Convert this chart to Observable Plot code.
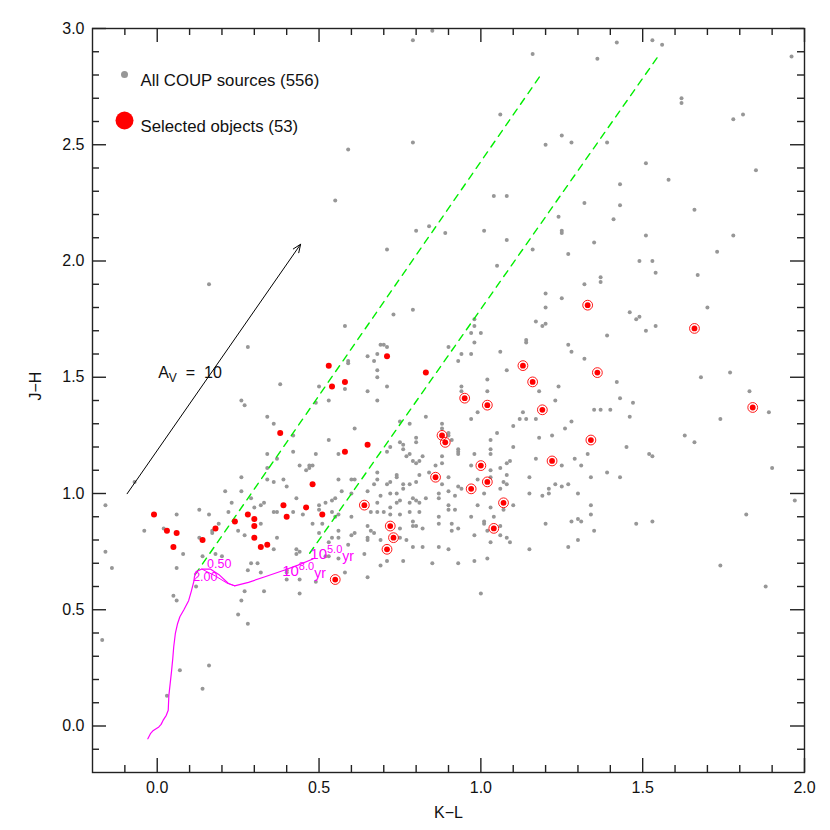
<!DOCTYPE html>
<html><head><meta charset="utf-8">
<script src="https://cdn.jsdelivr.net/npm/d3@7"></script>
<script src="https://cdn.jsdelivr.net/npm/@observablehq/plot@0.6"></script>
<style>body{margin:0;background:#fff;} #chart svg{display:block}</style>
</head><body><div id="chart"></div>
<script>
// ---- data: [K-L, J-H] ----
const allSources = [
[0.79,2.95],[0.85,2.99],[0.59,2.48],[0.79,2.51],[0.55,2.26],[0.80,2.13],[0.84,2.15],[0.71,2.05],
[1.06,2.63],[1.04,2.28],[1.08,2.28],[0.89,2.12],[1.01,2.13],[1.08,2.09],[1.05,1.98],[0.79,1.79],
[1.16,2.89],[1.42,2.94],[1.53,2.95],[1.56,2.93],[1.36,2.87],[1.96,2.88],[1.62,2.70],[1.62,2.68],[1.78,2.61],[1.81,2.63],[1.25,2.54],[1.28,2.51],[1.20,2.50],[1.39,2.51],[1.85,2.39],[1.51,2.42],[1.58,2.35],[1.43,2.33],[1.43,2.24],[1.32,2.25],[1.66,2.22],[1.41,2.18],[1.24,2.19],[1.25,2.13],[1.25,2.12],[1.51,2.11],[1.78,2.11],[1.16,2.05],[1.27,2.03],[1.35,2.08],[1.73,2.04],[1.49,2.00],[1.53,2.00],[1.54,1.95],[1.67,1.94],[1.37,1.93],[1.37,1.91],[1.32,1.90],[1.20,1.86],[1.25,1.84],[1.20,1.80],[1.70,1.80],[1.46,1.78],[1.48,1.75],[1.49,1.76],[1.17,1.74],
[1.51,1.70],[1.54,1.72],[1.39,1.68],[1.27,1.64],[1.28,1.61],[1.32,1.58],[1.77,1.52],[1.68,1.50],[1.42,1.48],[1.83,1.44],[1.43,1.41],[1.47,1.39],[1.35,1.36],[1.37,1.36],[1.40,1.36],[1.89,1.35],[1.46,1.33],[1.74,1.32],[1.28,1.31],[1.26,1.28],[1.63,1.25],[1.66,1.22],[1.45,1.20],[1.33,1.17],[1.52,1.17],[1.53,1.16],[1.29,1.15],[1.25,1.12],[1.31,1.12],[1.90,1.11],[1.39,1.09],[1.43,1.07],[1.34,1.07],[1.25,1.03],[1.27,1.04],[1.97,0.97],[1.34,0.95],[1.34,0.91],[1.82,0.91],[1.28,0.88],[1.30,0.89],[1.31,0.88],[1.48,0.87],[1.53,0.88],[1.35,0.84],[1.30,0.80],[1.27,0.77],[1.74,0.69],[1.88,0.60],
[0.73,1.77],[0.98,1.75],[1.20,1.73],[1.19,1.72],[0.58,1.72],[0.98,1.72],[0.97,1.69],[1.00,1.69],[0.98,1.65],[1.14,1.66],[1.14,1.65],[0.69,1.64],[0.70,1.64],[0.71,1.63],[0.90,1.63],[1.06,1.61],[0.94,1.60],[0.97,1.60],[0.65,1.59],[0.68,1.60],[0.67,1.57],[0.59,1.57],[0.59,1.56],[0.93,1.57],[1.08,1.53],[0.68,1.53],[0.68,1.50],[0.58,1.45],[0.65,1.44],[0.71,1.46],[0.94,1.46],[0.94,1.44],[1.02,1.44],[1.02,1.49],[1.18,1.44],[1.24,1.46],[0.49,1.39],[0.50,1.46],[0.53,1.40],[0.68,1.40],[1.23,1.40],[0.97,1.32],[0.83,1.33],[0.99,1.35],[1.13,1.35],[1.12,1.32],[1.14,1.32],[1.17,1.32],[0.75,1.31],[0.78,1.30],[1.10,1.29],[1.05,1.26],[0.61,1.28],[0.88,1.30],[0.88,1.28],[0.90,1.26],[0.90,1.25],[0.91,1.23],[0.80,1.24],[0.80,1.22],[1.18,1.24],[1.22,1.25],[1.03,1.23],[1.03,1.19],[1.10,1.20],[0.53,1.23],[0.75,1.22],[0.76,1.21],[0.76,1.19],[0.71,1.18],[0.93,1.19],[0.93,1.18],[0.93,1.17],[0.88,1.16],[0.98,1.17],[1.03,1.17],[0.49,1.17],[0.56,1.17],[0.78,1.17],[0.77,1.16],[0.82,1.16],[0.79,1.14],[0.80,1.13],[0.81,1.14],[0.88,1.13],[1.09,1.14],[1.08,1.13],[1.17,1.15],[1.03,1.10],[1.06,1.11],[0.97,1.12],[0.86,1.12],[0.84,1.09],[0.68,1.09],[0.47,1.12],[0.48,1.12],[0.46,1.10],[1.15,1.07],[1.08,1.08],[1.03,1.07],[0.90,1.07],[0.74,1.08],[0.74,1.07],[0.68,1.06],[0.60,1.06],[0.61,1.06],[0.80,1.05],[0.88,1.04],[0.67,1.04],[0.71,1.04],[0.72,1.05],[0.76,1.04],[0.78,1.04],[1.07,1.05],[1.08,1.04],[1.23,1.04],[0.60,1.00],[0.65,1.01],[0.72,1.00],[0.74,1.00],[0.93,1.03],[0.87,1.00],[0.90,1.01],[0.92,0.99],[1.01,1.00],[1.06,1.02],[1.15,1.00],[1.19,0.99],[1.21,1.02],[1.21,1.00],[1.30,1.00],[0.57,1.01],[0.55,0.98],[0.54,0.97],[0.52,0.96],[0.50,0.95],[0.69,0.99],[0.68,0.96],[0.74,0.96],[0.75,0.97],[0.78,0.96],[0.79,0.98],[0.80,0.97],[0.81,0.96],[0.83,0.98],[0.87,0.98],[0.90,0.95],[0.90,0.93],[0.92,0.93],[0.99,0.95],[1.03,0.94],[1.07,0.93],[1.10,0.95],[0.66,0.92],[0.68,0.92],[0.70,0.92],[0.72,0.94],[0.72,0.91],[0.75,0.91],[0.78,0.92],[0.81,0.92],[0.60,0.90],[0.56,0.91],[0.54,0.92],[0.48,0.87],[0.51,0.87],[0.50,0.83],[0.55,0.90],[0.65,0.86],[0.66,0.84],[0.67,0.83],[0.65,0.81],[0.65,0.80],[0.61,0.83],[0.60,0.82],[0.69,0.80],[0.75,0.85],[0.75,0.81],[0.77,0.80],[0.79,0.88],[0.79,0.86],[0.80,0.86],[0.82,0.85],[0.87,0.90],[0.87,0.87],[0.91,0.87],[0.91,0.84],[0.93,0.85],[0.97,0.90],[1.01,0.88],[1.01,0.87],[1.04,0.90],[0.98,0.82],[1.02,0.84],[1.08,0.81],[1.09,0.79],[1.06,0.82],[1.15,0.76],[0.82,0.77],[0.79,0.77],[0.87,0.77],[0.90,0.76],[0.54,0.81],[0.56,0.81],[0.59,0.78],[0.64,0.74],[0.71,0.71],[0.69,0.69],[0.85,0.70],[0.93,0.70],[0.98,0.71],[1.02,0.72],[0.65,0.64],[0.58,0.66],[0.49,0.62],[1.00,0.57],[1.20,0.87],
[0.16,1.90],[0.28,1.63],[0.38,1.47],[0.26,1.40],[0.27,1.38],[0.34,1.33],[0.36,1.30],[0.42,1.25],[0.42,1.18],[0.34,1.17],[0.37,1.15],[0.34,1.11],[0.44,1.12],[0.47,1.11],[0.26,1.07],[0.34,1.06],[0.36,1.05],[0.39,1.06],[0.40,1.03],[-0.07,1.05],
[-0.16,0.95],[-0.16,0.75],[-0.14,0.68],[-0.17,0.37],[-0.04,0.84],[0.02,0.85],[0.06,0.91],[0.08,0.74],[0.06,0.68],[0.05,0.56],[0.06,0.54],[0.07,0.24],[0.03,0.13],[0.14,0.16],[0.16,0.26],[0.12,0.60],[0.13,0.93],[0.13,0.81],[0.16,0.91],[0.17,0.84],[0.17,0.83],[0.19,0.87],[0.14,0.73],[0.18,0.74],[0.20,0.73],[0.22,0.92],[0.23,0.96],[0.25,0.84],[0.27,0.82],[0.26,0.54],[0.25,0.48],[0.28,0.44],[0.27,0.58],[0.28,0.67],[0.32,0.66],[0.29,0.70],[0.31,0.70],[0.29,0.98],[0.30,0.94],[0.32,0.87],[0.32,0.95],[0.33,0.96],[0.36,0.92],[0.37,0.92],[0.37,0.81],[0.36,0.76],[0.33,0.58],[0.43,0.98],[0.42,0.92],[0.45,0.91],[0.43,0.76],[0.43,0.74],[0.44,0.75],[0.40,0.63],[0.44,0.63],[0.44,0.57],[0.56,0.84],[0.53,0.79],[0.21,1.01],[0.26,1.01],
[0.40,0.67],[0.40,0.66],[0.52,0.73],[0.53,0.73],[0.50,0.93],[0.56,1.06],[0.56,0.72],[0.76,0.71],
[0.72,1.20],[0.81,1.08],[0.76,1.02],[0.94,1.02],[0.99,1.06],[1.06,0.86],[1.03,0.79]
];
const selectedObjects = [
[-0.01,0.91],[0.03,0.84],[0.06,0.83],[0.05,0.77],[0.14,0.80],[0.18,0.85],[0.24,0.88],[0.28,0.91],[0.30,0.89],[0.30,0.86],[0.30,0.81],[0.32,0.77],[0.34,0.78],[0.39,0.95],[0.40,0.90],[0.46,0.94],[0.48,1.04],[0.51,0.91],[0.53,1.55],[0.71,1.59],[0.54,1.46],[0.58,1.48],[0.83,1.52],[0.58,1.18],[0.65,1.21],[0.38,1.26]
];
const selectedRinged = [
[1.33,1.81],[1.13,1.55],[1.16,1.48],[1.36,1.52],[0.95,1.41],[1.02,1.38],[1.19,1.36],[1.34,1.23],[0.88,1.25],[0.89,1.22],[1.22,1.14],[1.00,1.12],[0.86,1.07],[1.02,1.05],[0.97,1.02],[1.07,0.96],[0.64,0.95],[0.72,0.86],[0.73,0.81],[1.04,0.85],[0.71,0.76],[0.55,0.63],[1.66,1.71],[1.84,1.37]
];
const isochrone = [
[-0.029,-0.055],[-0.021,-0.033],[-0.012,-0.019],[0.005,-0.004],[0.012,0.007],[0.018,0.024],[0.028,0.046],[0.034,0.068],[0.036,0.132],[0.040,0.182],[0.044,0.233],[0.048,0.290],[0.051,0.341],[0.056,0.398],[0.063,0.441],[0.070,0.470],[0.082,0.499],[0.097,0.539],[0.105,0.578],[0.113,0.621],[0.115,0.642],[0.120,0.664],[0.138,0.675],[0.164,0.675],[0.190,0.652],[0.220,0.613],[0.239,0.603],[0.282,0.618],[0.333,0.642],[0.394,0.671],[0.435,0.692],[0.481,0.718]
];
const isochroneBranch = [[0.138,0.675],[0.180,0.645],[0.215,0.615],[0.239,0.603]];
const reddeningLine1 = [[0.117,0.651],[1.186,2.802]];
const reddeningLine2 = [[0.471,0.743],[1.545,2.875]];
const reddeningArrow = [{x1:-0.093, y1:0.999, x2:0.443, y2:2.072}];
const massLabels = [{x:0.111, y:0.642, text:"2.00"},{x:0.154, y:0.697, text:"0.50"}];
const ageLabels = [{x:0.386, y:0.668, exp:"8.0"},{x:0.473, y:0.738, exp:"5.0"}];
const avLabel = [{x:0.003, y:1.518}];
const xTickLabels = [0, 0.5, 1.0, 1.5, 2.0];
const xMinorTicks = [-0.1,0.1,0.2,0.3,0.4,0.6,0.7,0.8,0.9,1.1,1.2,1.3,1.4,1.6,1.7,1.8,1.9];
const yTickLabels = [0, 0.5, 1.0, 1.5, 2.0, 2.5, 3.0];
const yMinorTicks = [-0.1,0.1,0.2,0.3,0.4,0.6,0.7,0.8,0.9,1.1,1.2,1.3,1.4,1.6,1.7,1.8,1.9,2.1,2.2,2.3,2.4,2.6,2.7,2.8,2.9];
const legendItems = ["All COUP sources (556)", "Selected objects (53)"];

// ---- layout ----
const W = 830, H = 830, mL = 92, mR = 26, mT = 28, mB = 58;
const FW = W - mL - mR, FH = H - mT - mB;
const MAJ = 14, MIN = 7;
const GRAY = "#979797", RED = "#ff0000", MAG = "#ff00ff", GREEN = "#00ee00";
const tickStroke = {stroke: "#222", strokeWidth: 1.4};

const svg = Plot.plot({
  width: W, height: H,
  marginLeft: mL, marginRight: mR, marginTop: mT, marginBottom: mB,
  style: {fontFamily: "'Liberation Sans', Arial, sans-serif", fontSize: "16px", color: "#111", background: "#fff"},
  x: {domain: [-0.2, 2.0]},
  y: {domain: [-0.2, 3.0]},
  marks: [
    Plot.dot(allSources, {r: 2, fill: GRAY}),
    Plot.line(reddeningLine1, {stroke: GREEN, strokeWidth: 1.4, strokeDasharray: "7,6"}),
    Plot.line(reddeningLine2, {stroke: GREEN, strokeWidth: 1.4, strokeDasharray: "7,6"}),
    Plot.line(isochrone, {stroke: MAG, strokeWidth: 1.2}),
    Plot.line(isochroneBranch, {stroke: MAG, strokeWidth: 1}),
    Plot.text(massLabels, {x: "x", y: "y", text: "text", textAnchor: "start", fill: MAG, fontSize: 12.5}),
    Plot.text(ageLabels, {x: "x", y: "y", text: d => "AGE:" + d.exp, textAnchor: "start", fill: MAG, fontSize: 15}),
    Plot.arrow(reddeningArrow, {x1: "x1", y1: "y1", x2: "x2", y2: "y2", stroke: "#000", strokeWidth: 1, headLength: 13, headAngle: 45}),
    Plot.text(avLabel, {x: "x", y: "y", text: () => "AVLABEL", textAnchor: "start", fontSize: 16, fill: "#111"}),
    Plot.dot(selectedObjects, {r: 3, fill: RED}),
    Plot.dot(selectedRinged, {r: 4.9, fill: "none", stroke: RED, strokeWidth: 0.9}),
    Plot.dot(selectedRinged, {r: 2.9, fill: RED}),
    // legend
    Plot.dot([0], {frameAnchor: "top-left", dx: 32, dy: 46, r: 3.5, fill: GRAY}),
    Plot.dot([0], {frameAnchor: "top-left", dx: 32, dy: 92, r: 9, fill: RED}),
    Plot.text([legendItems[0]], {frameAnchor: "top-left", dx: 48, dy: 46, textAnchor: "start", fontSize: 16.8, fill: "#111"}),
    Plot.text([legendItems[1]], {frameAnchor: "top-left", dx: 48, dy: 92, textAnchor: "start", fontSize: 16.8, fill: "#111"}),
    // frame and inward ticks
    Plot.frame({stroke: "#222", strokeWidth: 1.4}),
    Plot.tickX(xTickLabels, {insetTop: FH - MAJ, ...tickStroke}),
    Plot.tickX(xTickLabels, {insetBottom: FH - MAJ, ...tickStroke}),
    Plot.tickX(xMinorTicks, {insetTop: FH - MIN, ...tickStroke}),
    Plot.tickX(xMinorTicks, {insetBottom: FH - MIN, ...tickStroke}),
    Plot.tickY(yTickLabels, {insetRight: FW - MAJ, ...tickStroke}),
    Plot.tickY(yTickLabels, {insetLeft: FW - MAJ, ...tickStroke}),
    Plot.tickY(yMinorTicks, {insetRight: FW - MIN, ...tickStroke}),
    Plot.tickY(yMinorTicks, {insetLeft: FW - MIN, ...tickStroke}),
    // axes
    Plot.axisX(xTickLabels, {tickSize: 0, tickPadding: 9, tickFormat: d => d.toFixed(1), fontSize: 16, label: null}),
    Plot.axisY(yTickLabels, {tickSize: 0, tickPadding: 8, tickFormat: d => d.toFixed(1), fontSize: 16, label: null}),
    Plot.text(["K\u2212L"], {frameAnchor: "bottom", dy: 45, fontSize: 16, fill: "#111"}),
    Plot.text(["J\u2212H"], {frameAnchor: "left", dx: -57, rotate: -90, fontSize: 16, fill: "#111"})
  ]
});

// rich-text labels (superscripts / subscripts)
d3.select(svg).selectAll("text").each(function () {
  const s = this.textContent;
  const t = d3.select(this);
  if (s.startsWith("AGE:")) {
    const exp = s.slice(4);
    t.text(null);
    t.append("tspan").attr("font-size", 15).text("10");
    t.append("tspan").attr("font-size", 11).attr("dy", -6).text(exp);
    t.append("tspan").attr("font-size", 14).attr("dy", 8).text("yr");
  } else if (s === "AVLABEL") {
    t.text(null);
    t.append("tspan").attr("font-size", 16).text("A");
    t.append("tspan").attr("font-size", 12).attr("dy", 4).text("V");
    t.append("tspan").attr("font-size", 16).attr("dy", -4).text("\u00a0\u00a0=\u00a0\u00a010");
  }
});

document.getElementById("chart").appendChild(svg);
</script>
</body></html>
